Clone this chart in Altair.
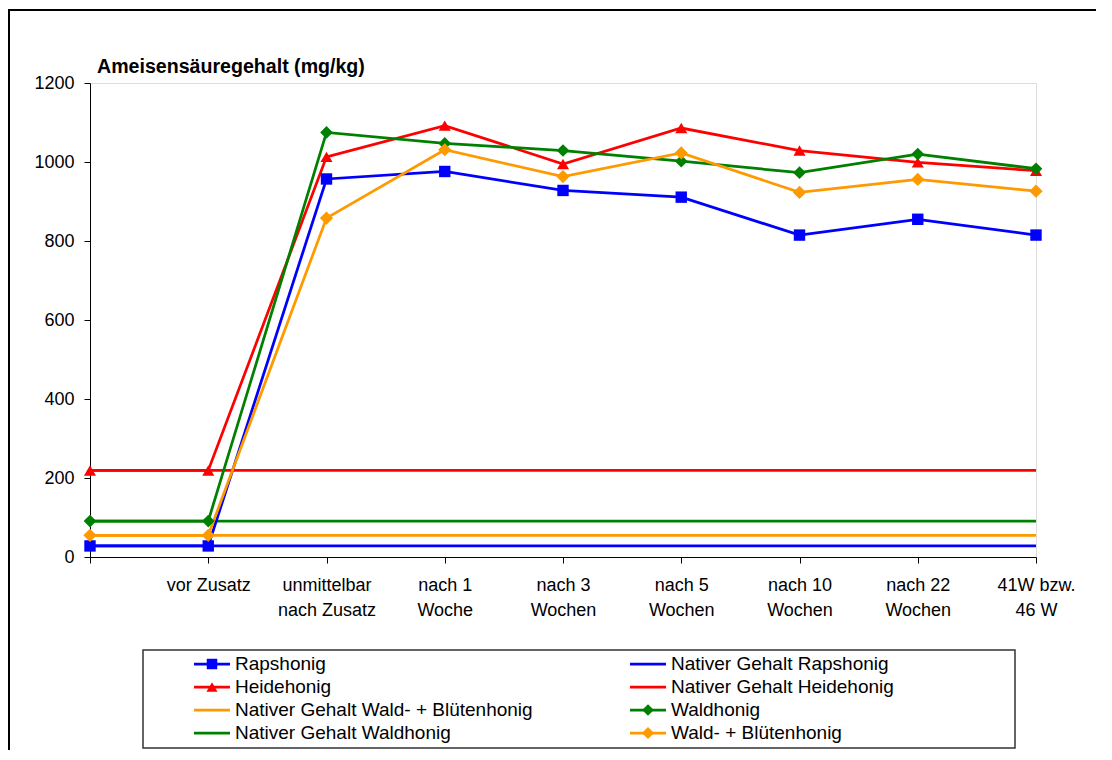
import altair as alt
import pandas as pd

FONT = "Liberation Sans"

# ---------------- data ----------------
categories = ["", "vor Zusatz", "unmittelbar|nach Zusatz", "nach 1|Woche", "nach 3|Wochen",
              "nach 5|Wochen", "nach 10|Wochen", "nach 22|Wochen", "41W bzw.|46 W"]

rapshonig = [28, 28, 957, 976, 928, 911, 815, 855, 815]
heidehonig = [219, 219, 1013, 1092, 995, 1086, 1029, 999, 978]
waldhonig = [91, 91, 1075, 1047, 1029, 1002, 973, 1020, 983]
wald_bluetenhonig = [55, 55, 858, 1031, 963, 1023, 923, 956, 926]

nativ_raps = 28
nativ_heide = 219
nativ_wald_blueten = 55
nativ_wald = 91

title_text = "Ameisensäuregehalt (mg/kg)"

series_names = ["Rapshonig", "Heidehonig", "Waldhonig", "Wald- + Blütenhonig"]
series_values = [rapshonig, heidehonig, waldhonig, wald_bluetenhonig]
native_names = ["Nativer Gehalt Rapshonig", "Nativer Gehalt Heidehonig",
                "Nativer Gehalt Wald- + Blütenhonig", "Nativer Gehalt Waldhonig"]
native_values = [nativ_raps, nativ_heide, nativ_wald_blueten, nativ_wald]

legend_order = ["Rapshonig", "Nativer Gehalt Rapshonig", "Heidehonig", "Nativer Gehalt Heidehonig",
                "Nativer Gehalt Wald- + Blütenhonig", "Waldhonig", "Nativer Gehalt Waldhonig",
                "Wald- + Blütenhonig"]
legend_colors = ["#0000FF", "#0000FF", "#FF0000", "#FF0000", "#FF9900", "#008000", "#008000", "#FF9900"]
shape_domain = ["Rapshonig", "Heidehonig", "Waldhonig", "Wald- + Blütenhonig"]
shape_range = ["square", "triangle-up", "diamond", "diamond"]
size_range = [130, 175, 130, 130]
legend_size_range = [110, 150, 110, 110]

# ---------------- tables ----------------
rows = []
for name, vals in zip(series_names, series_values):
    for i, v in enumerate(vals):
        rows.append({"reihe": name, "idx": i, "wert": v})
df_series = pd.DataFrame(rows)

rows = []
for name, v in zip(native_names, native_values):
    for i in range(len(categories)):
        rows.append({"reihe": name, "idx": i, "wert": v})
df_native = pd.DataFrame(rows)

df_legend = pd.DataFrame({
    "reihe": legend_order,
    "col": [i % 2 for i in range(len(legend_order))],
    "row": [i // 2 for i in range(len(legend_order))],
    "marker": [n in shape_domain for n in legend_order],
})
df_legend["reihe2"] = df_legend["reihe"]

# ---------------- encodings ----------------
arr = "[" + ",".join("'" + c + "'" for c in categories) + "]"
x_enc = alt.X(
    "idx:Q",
    scale=alt.Scale(domain=[0, len(categories) - 1], nice=False, zero=False),
    axis=alt.Axis(values=list(range(len(categories))), labelExpr="split(" + arr + "[datum.value], '|')",
                  title=None, grid=False, tickSize=6, labelPadding=13, labelLineHeight=25,
                  labelFontSize=18, labelFont=FONT, labelColor="black", domainColor="black",
                  tickColor="black", labelAngle=0, labelFlush=False, labelOverlap=False),
)
y_enc = alt.Y(
    "wert:Q",
    scale=alt.Scale(domain=[0, 1200], nice=False),
    axis=alt.Axis(values=[0, 200, 400, 600, 800, 1000, 1200], format="d", title=None, grid=False,
                  tickSize=6, labelPadding=10, labelFontSize=18, labelFont=FONT, labelColor="black",
                  domainColor="black", tickColor="black"),
)
color_enc = alt.Color("reihe:N", scale=alt.Scale(domain=legend_order, range=legend_colors), legend=None)
shape_enc = alt.Shape("reihe:N", scale=alt.Scale(domain=shape_domain, range=shape_range), legend=None)
size_enc = alt.Size("reihe:N", scale=alt.Scale(domain=shape_domain, range=size_range), legend=None)

native = alt.Chart(df_native).mark_line(strokeWidth=2.75).encode(
    x=x_enc, y=y_enc, color=color_enc, detail="reihe:N")
lines = alt.Chart(df_series).mark_line(strokeWidth=2.75).encode(
    x=x_enc, y=y_enc, color=color_enc, detail="reihe:N")
points = alt.Chart(df_series).mark_point(filled=True, opacity=1).encode(
    x=x_enc, y=y_enc, color=color_enc, shape=shape_enc, size=size_enc)

main = alt.layer(native, lines, points)

# ---------------- legend & frames ----------------
lx = alt.X("col:Q", scale=alt.Scale(domain=[0, 1], range=[104, 540]), axis=None)
ly = alt.Y("row:Q", scale=alt.Scale(domain=[0, 3], range=[581, 650]), axis=None)

frame_df = pd.DataFrame({"t": [title_text]})
legend_box = alt.Chart(frame_df).mark_rect(fill="white", stroke="#333333", strokeWidth=1.5).encode(
    x=alt.value(53), x2=alt.value(925), y=alt.value(567), y2=alt.value(665))
outer_box = alt.Chart(frame_df).mark_rect(fill=None, stroke="black", strokeWidth=2).encode(
    x=alt.value(-81), x2=alt.value(1200), y=alt.value(-73), y2=alt.value(900))
title_mark = alt.Chart(frame_df).mark_text(align="left", baseline="alphabetic", fontSize=19.6,
                                           fontWeight="bold", font=FONT, color="black").encode(
    x=alt.value(7), y=alt.value(-10), text="t:N")

leg_rule = alt.Chart(df_legend).mark_rule(strokeWidth=2.75, x2Offset=36).encode(
    x=lx, x2=alt.X2("col:Q"), y=ly, color=color_enc)
leg_pts = alt.Chart(df_legend).transform_filter("datum.marker").mark_point(
    filled=True, opacity=1, xOffset=18).encode(
    x=lx, y=ly, color=color_enc, shape=shape_enc,
    size=alt.Size("reihe2:N", scale=alt.Scale(domain=shape_domain, range=legend_size_range), legend=None))
leg_txt = alt.Chart(df_legend).mark_text(align="left", baseline="middle", dx=41, fontSize=19,
                                         font=FONT, color="black").encode(x=lx, y=ly, text="reihe:N")

legend = alt.layer(outer_box, legend_box, title_mark, leg_rule, leg_pts, leg_txt)

chart = alt.layer(main, legend).resolve_scale(
    x="independent", y="independent", size="independent").properties(
    width=946, height=474,
    autosize=alt.AutoSizeParams(type="none"),
    padding={"left": 82, "top": 75, "right": 60, "bottom": 193},
).configure_view(stroke="#A0A0A0", strokeWidth=1.5).configure(background="white")

chart.save("out.html", embed_options={"renderer": "svg", "actions": False})
